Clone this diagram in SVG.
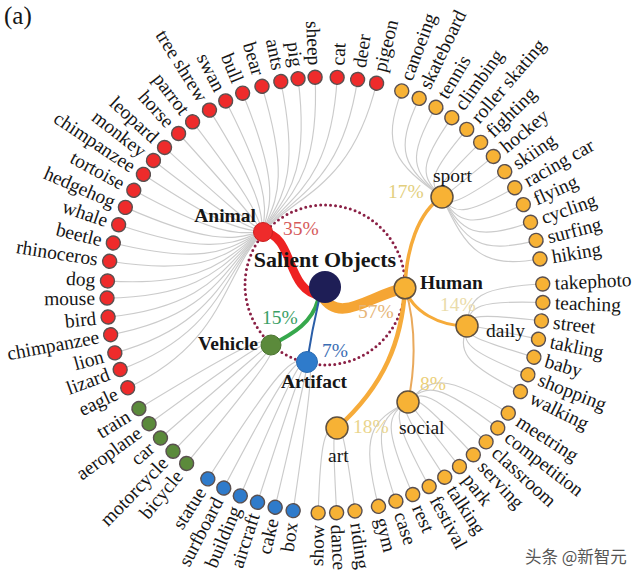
<svg xmlns="http://www.w3.org/2000/svg" width="640" height="577" viewBox="0 0 640 577">
<style>
text{font-family:"Liberation Serif","Times New Roman",serif;fill:#161616}
.lf text{font-size:19.5px}
.lf circle{stroke:#5a5050;stroke-width:1.4}
.L{text-anchor:end}
.r{fill:#ee2b2b}.o{fill:#f7b235}.g{fill:#5b8a3b}.b{fill:#2f7bcb}
.gl path{fill:none;stroke:#cbcbcb;stroke-width:1.15}
.mn{fill:none;stroke-linecap:round}
.bold{font-weight:bold;font-size:19.5px}
.pc{font-size:19.5px}
.sub{font-size:19.5px}
.hn{fill:#f7b235;stroke:#5e5040;stroke-width:1.5}
</style>
<rect width="640" height="577" fill="#ffffff"/>
<text x="4" y="24" style="font-size:25px">(a)</text>
<circle cx="325" cy="285" r="80" fill="none" stroke="#8a2045" stroke-width="3" stroke-linecap="round" stroke-dasharray="0 5.0265"/>
<g id="connectors">
<g class="gl">
<path d="M442,197 C394.5,163.4 381.0,146.1 401.7,90.9"/>
<path d="M442,197 C403.7,167.3 393.7,151.5 419.2,98.4"/>
<path d="M442,197 C412.5,172.0 406.0,158.0 435.9,107.3"/>
<path d="M442,197 C420.9,177.4 417.5,165.6 451.8,117.7"/>
<path d="M442,197 C428.7,183.6 428.5,174.1 466.8,129.4"/>
<path d="M442,197 C435.9,190.3 438.6,183.6 480.6,142.3"/>
<path d="M442,197 C442.6,197.8 447.8,193.9 493.3,156.4"/>
<path d="M442,197 C448.6,205.7 456.2,204.9 504.7,171.6"/>
<path d="M442,197 C453.9,214.2 463.5,216.7 514.8,187.7"/>
<path d="M442,197 C458.4,223.0 469.8,229.1 523.4,204.6"/>
<path d="M442,197 C462.1,232.3 475.0,241.9 530.5,222.2"/>
<path d="M442,197 C465.0,241.8 479.0,255.1 536.0,240.4"/>
<path d="M442,197 C467.1,251.6 481.9,268.7 540.0,259.0"/>
<path d="M467,326 C469.3,297.2 477.4,287.3 542.7,284.0"/>
<path d="M467,326 C469.4,306.5 477.5,300.2 542.9,302.5"/>
<path d="M467,326 C468.7,315.7 476.5,313.1 541.5,320.9"/>
<path d="M467,326 C467.2,324.9 474.4,325.9 538.5,339.2"/>
<path d="M467,326 C465.0,333.8 471.3,338.5 534.0,357.2"/>
<path d="M467,326 C461.9,342.6 467.0,350.8 527.9,374.7"/>
<path d="M467,326 C458.2,351.0 461.8,362.6 520.4,391.6"/>
<path d="M408,402 C431.1,376.7 445.8,372.8 508.3,413.1"/>
<path d="M408,402 C426.2,383.7 438.9,382.6 497.8,428.0"/>
<path d="M408,402 C420.8,390.2 431.2,391.8 486.1,441.9"/>
<path d="M408,402 C414.8,396.2 422.8,400.3 473.3,454.8"/>
<path d="M408,402 C408.4,401.7 413.6,408.1 459.5,466.6"/>
<path d="M408,402 C401.5,406.7 403.9,415.1 444.7,477.2"/>
<path d="M408,402 C394.3,411.0 393.6,421.3 429.1,486.5"/>
<path d="M408,402 C386.6,414.7 382.9,426.5 412.8,494.5"/>
<path d="M408,402 C378.8,417.8 371.7,430.9 395.9,501.1"/>
<path d="M408,402 C370.7,420.2 360.2,434.3 378.5,506.4"/>
<path d="M337,428 C341.7,427.4 344.5,435.7 355.0,510.9"/>
<path d="M337,428 C333.3,428.2 332.6,436.8 336.6,512.7"/>
<path d="M337,428 C324.9,428.3 320.5,436.9 318.2,512.9"/>
<path d="M307,362 C313.0,363.3 312.7,378.4 293.2,510.7"/>
<path d="M307,362 C308.6,362.5 305.7,377.1 275.1,507.2"/>
<path d="M307,362 C304.4,361.3 298.9,375.2 257.5,502.3"/>
<path d="M307,362 C300.3,359.8 292.2,372.7 240.3,495.9"/>
<path d="M307,362 C296.4,357.9 285.8,369.7 223.7,488.1"/>
<path d="M307,362 C292.5,355.6 279.7,366.1 207.9,478.9"/>
<path d="M271,345 C276.5,350.2 269.1,363.0 186.6,463.4"/>
<path d="M271,345 C273.0,347.1 263.6,358.1 173.0,451.3"/>
<path d="M271,345 C269.9,343.7 258.6,352.7 160.5,438.0"/>
<path d="M271,345 C267.0,340.1 254.0,347.0 149.1,423.8"/>
<path d="M271,345 C264.4,336.2 249.9,340.8 138.9,408.6"/>
<path d="M263,232 C221.6,276.5 225.5,341.8 127.8,387.8"/>
<path d="M263,232 C222.6,271.8 221.6,332.6 120.1,369.6"/>
<path d="M263,232 C223.6,267.7 218.9,324.2 114.8,352.9"/>
<path d="M263,232 C224.9,263.4 216.8,315.0 110.6,334.7"/>
<path d="M263,232 C226.2,259.3 215.6,306.1 108.1,317.0"/>
<path d="M263,232 C227.9,255.1 215.0,296.5 107.0,298.1"/>
<path d="M263,232 C229.5,251.3 215.2,287.9 107.5,280.9"/>
<path d="M263,232 C231.6,247.0 216.3,278.0 109.6,261.3"/>
<path d="M263,232 C233.8,243.1 218.2,268.8 113.3,243.0"/>
<path d="M263,232 C236.1,239.1 220.9,259.5 118.6,224.7"/>
<path d="M263,232 C238.6,235.4 224.3,250.8 125.4,207.4"/>
<path d="M263,232 C241.3,231.7 228.5,242.2 133.8,190.3"/>
<path d="M263,232 C244.0,228.2 233.4,234.1 143.4,174.4"/>
<path d="M263,232 C246.8,225.0 238.4,227.1 153.5,160.5"/>
<path d="M263,232 C249.5,222.0 244.0,220.5 164.5,147.4"/>
<path d="M263,232 C252.9,218.6 251.1,213.5 178.6,133.5"/>
<path d="M263,232 C256.2,215.7 258.2,207.6 192.6,121.8"/>
<path d="M263,232 C260.0,212.5 266.7,201.7 209.5,110.1"/>
<path d="M263,232 C263.6,209.8 274.9,197.1 225.7,100.9"/>
<path d="M263,232 C267.3,207.3 283.4,193.2 242.6,93.2"/>
<path d="M263,232 C271.5,204.7 293.2,189.7 262.0,86.3"/>
<path d="M263,232 C275.5,202.4 302.7,187.3 280.8,81.5"/>
<path d="M263,232 C279.3,200.5 311.4,185.8 298.1,78.7"/>
<path d="M263,232 C283.0,198.7 320.0,185.1 315.1,77.2"/>
<path d="M263,232 C288.0,196.7 331.1,185.2 337.2,77.3"/>
<path d="M263,232 C292.6,195.1 341.4,186.2 357.6,79.4"/>
<path d="M263,232 C297.1,193.8 351.0,188.1 376.6,83.2"/>
</g>
<path class="mn" d="M263,232 C295,235 285,292 322,296" stroke="#ee2222" stroke-width="8.5"/>
<path class="mn" d="M322,296 C340,325 370,295 405,288" stroke="#f5a534" stroke-width="10.5"/>
<path class="mn" d="M318,300 C312,322 295,333 271,345" stroke="#36a84c" stroke-width="4"/>
<path class="mn" d="M319,300 Q312,330 307,362" stroke="#2a5ea8" stroke-width="2"/>
<path class="mn" d="M405,288 C406,250 418,212 442,197" stroke="#f6ab3a" stroke-width="3.5"/>
<path class="mn" d="M405,288 C402,340 385,385 337,428" stroke="#f6ab3a" stroke-width="4.5"/>
<path class="mn" d="M405,288 C418,330 414,375 408,402" stroke="#e9a95c" stroke-width="2"/>
<path class="mn" d="M405,288 C412,312 440,326 467,326" stroke="#f6ab3a" stroke-width="3"/>
</g>
<g id="n-root"><circle cx="325" cy="287" r="16" fill="#1e1e56"/><text x="325" y="267" text-anchor="middle" style="font-weight:bold;font-size:22px">Salient Objects</text></g>
<g id="n-animal"><circle cx="263" cy="232" r="9.5" fill="#ee2b2b" stroke="#c82020"/><text class="bold" x="256" y="222" text-anchor="end">Animal</text><text class="pc" x="283" y="235" style="fill:#d65a5a">35%</text></g>
<g id="n-vehicle"><circle cx="271" cy="345" r="10" fill="#5b8a3b" stroke="#4a7430"/><text class="bold" x="258" y="350" text-anchor="end">Vehicle</text><text class="pc" x="262" y="324" style="fill:#3aa065">15%</text></g>
<g id="n-artifact"><circle cx="307" cy="362" r="10.5" fill="#2f7bcb" stroke="#2a6ab0"/><text class="bold" x="281" y="388">Artifact</text><text class="pc" x="322" y="357" style="fill:#3b6db3">7%</text></g>
<g id="n-human"><circle class="hn" cx="405" cy="288" r="10.8"/><text class="bold" x="420" y="289">Human</text><text class="pc" x="358" y="318" style="fill:#e6b577">57%</text></g>
<g id="n-sport"><circle class="hn" cx="442" cy="197" r="11"/><text class="sub" x="433" y="182">sport</text><text class="pc" x="388" y="198" style="fill:#e3cf7e">17%</text></g>
<g id="n-daily"><circle class="hn" cx="467" cy="326" r="11"/><text class="sub" x="486" y="337">daily</text><text class="pc" x="440" y="311" style="fill:#eadcaa">14%</text></g>
<g id="n-social"><circle class="hn" cx="408" cy="402" r="11"/><text class="sub" x="399" y="434">social</text><text class="pc" x="420" y="390" style="fill:#ebcf7a">8%</text></g>
<g id="n-art"><circle class="hn" cx="337" cy="428" r="11"/><text class="sub" x="328" y="462">art</text><text class="pc" x="353" y="433" style="fill:#ead58d">18%</text></g>
<g class="lf">
<g id="n-canoeing" transform="translate(325 295) rotate(-69.4)"><circle class="o" cx="218" r="7"/><text x="230" dy=".33em">canoeing</text></g>
<g id="n-skateboard" transform="translate(325 295) rotate(-64.41)"><circle class="o" cx="218" r="7"/><text x="230" dy=".33em">skateboard</text></g>
<g id="n-tennis" transform="translate(325 295) rotate(-59.42)"><circle class="o" cx="218" r="7"/><text x="230" dy=".33em">tennis</text></g>
<g id="n-climbing" transform="translate(325 295) rotate(-54.43)"><circle class="o" cx="218" r="7"/><text x="230" dy=".33em">climbing</text></g>
<g id="n-roller-skating" transform="translate(325 295) rotate(-49.44)"><circle class="o" cx="218" r="7"/><text x="230" dy=".33em">roller skating</text></g>
<g id="n-fighting" transform="translate(325 295) rotate(-44.45)"><circle class="o" cx="218" r="7"/><text x="230" dy=".33em">fighting</text></g>
<g id="n-hockey" transform="translate(325 295) rotate(-39.46)"><circle class="o" cx="218" r="7"/><text x="230" dy=".33em">hockey</text></g>
<g id="n-skiing" transform="translate(325 295) rotate(-34.47)"><circle class="o" cx="218" r="7"/><text x="230" dy=".33em">skiing</text></g>
<g id="n-racing-car" transform="translate(325 295) rotate(-29.48)"><circle class="o" cx="218" r="7"/><text x="230" dy=".33em">racing car</text></g>
<g id="n-flying" transform="translate(325 295) rotate(-24.49)"><circle class="o" cx="218" r="7"/><text x="230" dy=".33em">flying</text></g>
<g id="n-cycling" transform="translate(325 295) rotate(-19.5)"><circle class="o" cx="218" r="7"/><text x="230" dy=".33em">cycling</text></g>
<g id="n-surfing" transform="translate(325 295) rotate(-14.51)"><circle class="o" cx="218" r="7"/><text x="230" dy=".33em">surfing</text></g>
<g id="n-hiking" transform="translate(325 295) rotate(-9.52)"><circle class="o" cx="218" r="7"/><text x="230" dy=".33em">hiking</text></g>
<g id="n-takephoto" transform="translate(325 295) rotate(-2.9)"><circle class="o" cx="218" r="7"/><text x="230" dy=".33em">takephoto</text></g>
<g id="n-teaching" transform="translate(325 295) rotate(1.97)"><circle class="o" cx="218" r="7"/><text x="230" dy=".33em">teaching</text></g>
<g id="n-street" transform="translate(325 295) rotate(6.83)"><circle class="o" cx="218" r="7"/><text x="230" dy=".33em">street</text></g>
<g id="n-takling" transform="translate(325 295) rotate(11.7)"><circle class="o" cx="218" r="7"/><text x="230" dy=".33em">takling</text></g>
<g id="n-baby" transform="translate(325 295) rotate(16.57)"><circle class="o" cx="218" r="7"/><text x="230" dy=".33em">baby</text></g>
<g id="n-shopping" transform="translate(325 295) rotate(21.44)"><circle class="o" cx="218" r="7"/><text x="230" dy=".33em">shopping</text></g>
<g id="n-walking" transform="translate(325 295) rotate(26.3)"><circle class="o" cx="218" r="7"/><text x="230" dy=".33em">walking</text></g>
<g id="n-meetring" transform="translate(325 295) rotate(32.8)"><circle class="o" cx="218" r="7"/><text x="230" dy=".33em">meetring</text></g>
<g id="n-competition" transform="translate(325 295) rotate(37.58)"><circle class="o" cx="218" r="7"/><text x="230" dy=".33em">competition</text></g>
<g id="n-classroom" transform="translate(325 295) rotate(42.36)"><circle class="o" cx="218" r="7"/><text x="230" dy=".33em">classroom</text></g>
<g id="n-serving" transform="translate(325 295) rotate(47.13)"><circle class="o" cx="218" r="7"/><text x="230" dy=".33em">serving</text></g>
<g id="n-park" transform="translate(325 295) rotate(51.91)"><circle class="o" cx="218" r="7"/><text x="230" dy=".33em">park</text></g>
<g id="n-talking" transform="translate(325 295) rotate(56.69)"><circle class="o" cx="218" r="7"/><text x="230" dy=".33em">talking</text></g>
<g id="n-festival" transform="translate(325 295) rotate(61.47)"><circle class="o" cx="218" r="7"/><text x="230" dy=".33em">festival</text></g>
<g id="n-rest" transform="translate(325 295) rotate(66.25)"><circle class="o" cx="218" r="7"/><text x="230" dy=".33em">rest</text></g>
<g id="n-case" transform="translate(325 295) rotate(71.02)"><circle class="o" cx="218" r="7"/><text x="230" dy=".33em">case</text></g>
<g id="n-gym" transform="translate(325 295) rotate(75.8)"><circle class="o" cx="218" r="7"/><text x="230" dy=".33em">gym</text></g>
<g id="n-riding" transform="translate(325 295) rotate(82.1)"><circle class="o" cx="218" r="7"/><text x="230" dy=".33em">riding</text></g>
<g id="n-dance" transform="translate(325 295) rotate(86.95)"><circle class="o" cx="218" r="7"/><text x="230" dy=".33em">dance</text></g>
<g id="n-show" transform="translate(325 295) rotate(-88.2)"><circle class="o" cx="-218" r="7"/><text class="L" x="-230" dy=".33em">show</text></g>
<g id="n-box" transform="translate(325 295) rotate(-81.6)"><circle class="b" cx="-218" r="7"/><text class="L" x="-230" dy=".33em">box</text></g>
<g id="n-cake" transform="translate(325 295) rotate(-76.78)"><circle class="b" cx="-218" r="7"/><text class="L" x="-230" dy=".33em">cake</text></g>
<g id="n-aircraft" transform="translate(325 295) rotate(-71.96)"><circle class="b" cx="-218" r="7"/><text class="L" x="-230" dy=".33em">aircraft</text></g>
<g id="n-building" transform="translate(325 295) rotate(-67.14)"><circle class="b" cx="-218" r="7"/><text class="L" x="-230" dy=".33em">building</text></g>
<g id="n-surfboard" transform="translate(325 295) rotate(-62.32)"><circle class="b" cx="-218" r="7"/><text class="L" x="-230" dy=".33em">surfboard</text></g>
<g id="n-statue" transform="translate(325 295) rotate(-57.5)"><circle class="b" cx="-218" r="7"/><text class="L" x="-230" dy=".33em">statue</text></g>
<g id="n-bicycle" transform="translate(325 295) rotate(-50.6)"><circle class="g" cx="-218" r="7"/><text class="L" x="-230" dy=".33em">bicycle</text></g>
<g id="n-motorcycle" transform="translate(325 295) rotate(-45.8)"><circle class="g" cx="-218" r="7"/><text class="L" x="-230" dy=".33em">motorcycle</text></g>
<g id="n-car" transform="translate(325 295) rotate(-41)"><circle class="g" cx="-218" r="7"/><text class="L" x="-230" dy=".33em">car</text></g>
<g id="n-aeroplane" transform="translate(325 295) rotate(-36.2)"><circle class="g" cx="-218" r="7"/><text class="L" x="-230" dy=".33em">aeroplane</text></g>
<g id="n-train" transform="translate(325 295) rotate(-31.4)"><circle class="g" cx="-218" r="7"/><text class="L" x="-230" dy=".33em">train</text></g>
<g id="n-eagle" transform="translate(325 295) rotate(-25.2)"><circle class="r" cx="-218" r="7"/><text class="L" x="-230" dy=".33em">eagle</text></g>
<g id="n-lizard" transform="translate(325 295) rotate(-20)"><circle class="r" cx="-218" r="7"/><text class="L" x="-230" dy=".33em">lizard</text></g>
<g id="n-lion" transform="translate(325 295) rotate(-15.4)"><circle class="r" cx="-218" r="7"/><text class="L" x="-230" dy=".33em">lion</text></g>
<g id="n-chimpanzee-1" transform="translate(325 295) rotate(-10.5)"><circle class="r" cx="-218" r="7"/><text class="L" x="-230" dy=".33em">chimpanzee</text></g>
<g id="n-bird" transform="translate(325 295) rotate(-5.8)"><circle class="r" cx="-218" r="7"/><text class="L" x="-230" dy=".33em">bird</text></g>
<g id="n-mouse" transform="translate(325 295) rotate(-0.8)"><circle class="r" cx="-218" r="7"/><text class="L" x="-230" dy=".33em">mouse</text></g>
<g id="n-dog" transform="translate(325 295) rotate(3.7)"><circle class="r" cx="-218" r="7"/><text class="L" x="-230" dy=".33em">dog</text></g>
<g id="n-rhinoceros" transform="translate(325 295) rotate(8.9)"><circle class="r" cx="-218" r="7"/><text class="L" x="-230" dy=".33em">rhinoceros</text></g>
<g id="n-beetle" transform="translate(325 295) rotate(13.8)"><circle class="r" cx="-218" r="7"/><text class="L" x="-230" dy=".33em">beetle</text></g>
<g id="n-whale" transform="translate(325 295) rotate(18.8)"><circle class="r" cx="-218" r="7"/><text class="L" x="-230" dy=".33em">whale</text></g>
<g id="n-hedgehog" transform="translate(325 295) rotate(23.7)"><circle class="r" cx="-218" r="7"/><text class="L" x="-230" dy=".33em">hedgehog</text></g>
<g id="n-tortoise" transform="translate(325 295) rotate(28.7)"><circle class="r" cx="-218" r="7"/><text class="L" x="-230" dy=".33em">tortoise</text></g>
<g id="n-chimpanzee-2" transform="translate(325 295) rotate(33.6)"><circle class="r" cx="-218" r="7"/><text class="L" x="-230" dy=".33em">chimpanzee</text></g>
<g id="n-monkey" transform="translate(325 295) rotate(38.1)"><circle class="r" cx="-218" r="7"/><text class="L" x="-230" dy=".33em">monkey</text></g>
<g id="n-leopard" transform="translate(325 295) rotate(42.6)"><circle class="r" cx="-218" r="7"/><text class="L" x="-230" dy=".33em">leopard</text></g>
<g id="n-horse" transform="translate(325 295) rotate(47.8)"><circle class="r" cx="-218" r="7"/><text class="L" x="-230" dy=".33em">horse</text></g>
<g id="n-parrot" transform="translate(325 295) rotate(52.6)"><circle class="r" cx="-218" r="7"/><text class="L" x="-230" dy=".33em">parrot</text></g>
<g id="n-tree-shrew" transform="translate(325 295) rotate(58)"><circle class="r" cx="-218" r="7"/><text class="L" x="-230" dy=".33em">tree shrew</text></g>
<g id="n-swan" transform="translate(325 295) rotate(62.9)"><circle class="r" cx="-218" r="7"/><text class="L" x="-230" dy=".33em">swan</text></g>
<g id="n-bull" transform="translate(325 295) rotate(67.8)"><circle class="r" cx="-218" r="7"/><text class="L" x="-230" dy=".33em">bull</text></g>
<g id="n-bear" transform="translate(325 295) rotate(73.2)"><circle class="r" cx="-218" r="7"/><text class="L" x="-230" dy=".33em">bear</text></g>
<g id="n-ants" transform="translate(325 295) rotate(78.3)"><circle class="r" cx="-218" r="7"/><text class="L" x="-230" dy=".33em">ants</text></g>
<g id="n-pig" transform="translate(325 295) rotate(82.9)"><circle class="r" cx="-218" r="7"/><text class="L" x="-230" dy=".33em">pig</text></g>
<g id="n-sheep" transform="translate(325 295) rotate(87.4)"><circle class="r" cx="-218" r="7"/><text class="L" x="-230" dy=".33em">sheep</text></g>
<g id="n-cat" transform="translate(325 295) rotate(-86.8)"><circle class="r" cx="218" r="7"/><text x="230" dy=".33em">cat</text></g>
<g id="n-deer" transform="translate(325 295) rotate(-81.4)"><circle class="r" cx="218" r="7"/><text x="230" dy=".33em">deer</text></g>
<g id="n-pigeon" transform="translate(325 295) rotate(-76.3)"><circle class="r" cx="218" r="7"/><text x="230" dy=".33em">pigeon</text></g>
</g>
<text x="525" y="563" style="font-family:'Noto Sans CJK SC','Noto Sans',sans-serif;font-size:16.5px;fill:#555">头条 @新智元</text>
</svg>
